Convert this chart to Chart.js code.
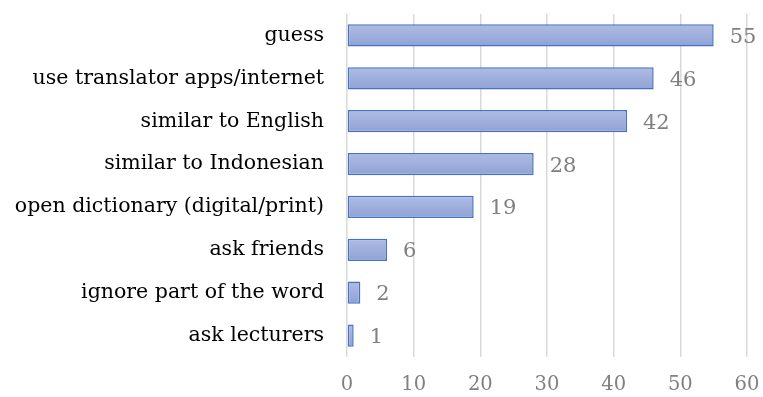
<!DOCTYPE html>
<html>
<head>
<meta charset="utf-8">
<script src="https://cdn.jsdelivr.net/npm/chart.js@4"></script>
<style>
  html, body { margin: 0; padding: 0; background: #fff; }
  #wrap { width: 763px; height: 397px; }
</style>
</head>
<body>
<div id="wrap"><canvas id="myChart" width="763" height="397"></canvas></div>
<script>
const labels = [
    'guess',
    'use translator apps/internet',
    'similar to English',
    'similar to Indonesian',
    'open dictionary (digital/print)',
    'ask friends',
    'ignore part of the word',
    'ask lecturers'
];
const counts = [55, 46, 42, 28, 19, 6, 2, 1];
const xMin = 0;
const xMax = 60;
const xStep = 10;

const fontFamily = '"DejaVu Serif", "Liberation Serif", serif';

// draws the value to the right of each bar
const valueLabels = {
    id: 'valueLabels',
    afterDatasetsDraw(chart) {
        const ctx = chart.ctx;
        const meta = chart.getDatasetMeta(0);
        ctx.save();
        ctx.fillStyle = '#808080';
        ctx.font = '21px ' + fontFamily;
        ctx.textAlign = 'left';
        ctx.textBaseline = 'middle';
        meta.data.forEach((bar, i) => {
            ctx.fillText(String(counts[i]), bar.x + 16, bar.y + 2);
        });
        ctx.restore();
    }
};

function barFill(c) {
    const chart = c.chart;
    if (!chart.chartArea || !chart.scales.y) return '#9eaedc';
    const y = chart.scales.y.getPixelForValue(c.dataIndex);
    const g = chart.ctx.createLinearGradient(0, y - 11, 0, y + 11);
    g.addColorStop(0, '#afbce3');
    g.addColorStop(1, '#8fa2d6');
    return g;
}

function noPad(scale) {
    scale.paddingTop = 0;
    scale.paddingBottom = 0;
    scale.paddingLeft = 0;
    scale.paddingRight = 0;
}

const ctx = document.getElementById('myChart').getContext('2d');
const myChart = new Chart(ctx, {
    type: 'bar',
    data: {
        labels: labels,
        datasets: [{
            data: counts,
            backgroundColor: barFill,
            borderColor: '#4472c4',
            borderWidth: 1.5,
            borderSkipped: false,
            categoryPercentage: 1,
            barPercentage: 0.52
        }]
    },
    plugins: [valueLabels],
    options: {
        indexAxis: 'y',
        responsive: false,
        animation: false,
        layout: { padding: { top: 14, right: 16, left: 0, bottom: 0 } },
        plugins: {
            legend: { display: false },
            tooltip: { enabled: false }
        },
        scales: {
            x: {
                min: xMin,
                max: xMax,
                ticks: {
                    stepSize: xStep,
                    color: '#808080',
                    font: { family: fontFamily, size: 19.5 },
                    padding: 16
                },
                grid: { color: '#d9d9d9', lineWidth: 1.5, drawTicks: false },
                border: { display: false },
                afterFit(scale) { scale.height = 40; noPad(scale); }
            },
            y: {
                ticks: {
                    color: '#000',
                    font: { family: fontFamily, size: 20.5 },
                    padding: 23
                },
                grid: { display: false, drawTicks: false },
                border: { display: false },
                afterFit(scale) { scale.width = 347; noPad(scale); }
            }
        }
    }
});
</script>
</body>
</html>
